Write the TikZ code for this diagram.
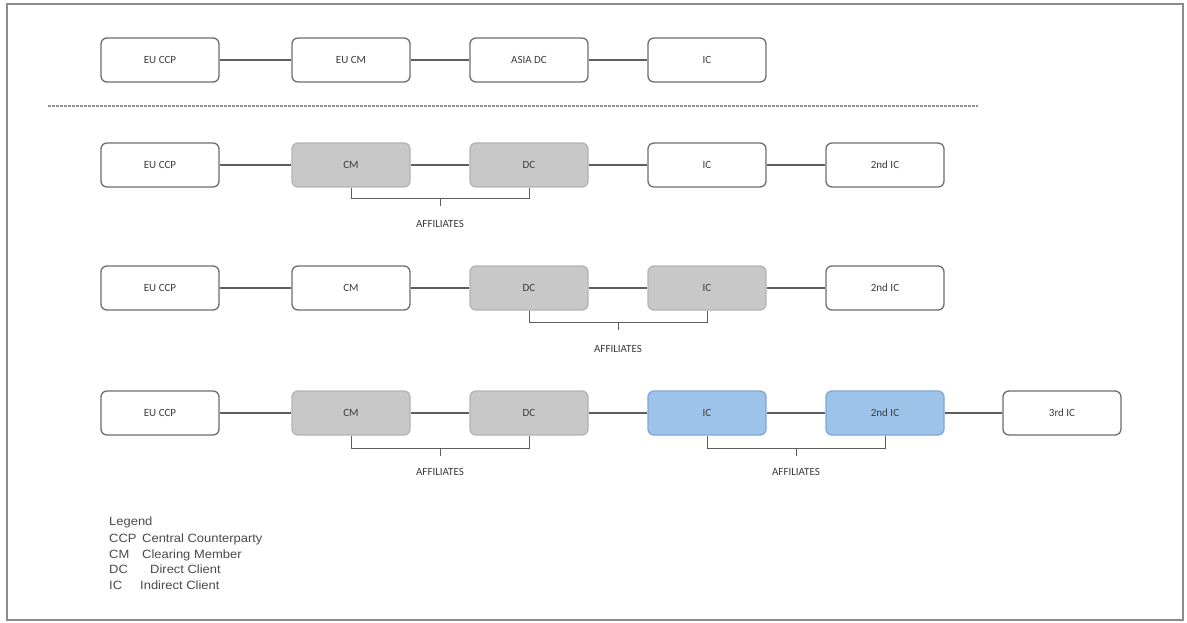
\documentclass[tikz,border=0pt]{standalone}
\usepackage{fontspec}
\setmainfont{Carlito}
\newfontfamily\legfont[FakeStretch=1.08]{Liberation Sans}
\definecolor{boxline}{HTML}{6E6E6E}
\definecolor{grayfill}{HTML}{C8C8C8}
\definecolor{grayline}{HTML}{B4B4B4}
\definecolor{bluefill}{HTML}{9EC3EA}
\definecolor{blueline}{HTML}{7FA8D8}
\definecolor{labeltext}{HTML}{3C3C3C}
\definecolor{legcolor}{HTML}{4A4A4A}
\definecolor{conn}{HTML}{5E5E5E}
\begin{document}
\begin{tikzpicture}[x=1pt,y=-1pt,
  entity/.style={draw=boxline,line width=1.3pt,rounded corners=6pt,minimum width=118pt,minimum height=44pt,inner sep=0pt,fill=white,text=labeltext,font=\fontsize{11}{13}\selectfont},
  grayent/.style={entity,draw=grayline,fill=grayfill},
  blueent/.style={entity,draw=blueline,fill=bluefill},
  link/.style={draw=conn,line width=1.4pt},
  brk/.style={draw=conn,line width=1pt},
  afflabel/.style={text=labeltext,font=\fontsize{11}{13}\selectfont,inner sep=0pt},
  legtext/.style={anchor=base west,inner sep=0pt,text=legcolor,font=\legfont\fontsize{12}{14}\selectfont}
]
\useasboundingbox (0,0) rectangle (1187,623);
\fill[white] (0,0) rectangle (1187,623);
\draw[draw=gray!90,line width=2pt] (7,4) rectangle (1183,620);

% Row 1
\node[entity] (a1) at (160,60) {EU CCP};
\node[entity] (a2) at (351,60) {EU CM};
\node[entity] (a3) at (529,60) {ASIA DC};
\node[entity] (a4) at (707,60) {IC};
\draw[link] (a1) -- (a2);
\draw[link] (a2) -- (a3);
\draw[link] (a3) -- (a4);

% dashed separator
\coordinate (d1) at (48,106);
\coordinate (d2) at (978,106);
\draw[draw=gray!85,line width=1.3pt,dash pattern=on 2.5pt off 1.5pt] (d1) -- (d2);

% Row 2
\node[entity] (b1) at (160,165) {EU CCP};
\node[grayent] (b2) at (351,165) {CM};
\node[grayent] (b3) at (529,165) {DC};
\node[entity] (b4) at (707,165) {IC};
\node[entity] (b5) at (885,165) {2nd IC};
\draw[link] (b1) -- (b2);
\draw[link] (b2) -- (b3);
\draw[link] (b3) -- (b4);
\draw[link] (b4) -- (b5);
\draw[brk] (b2.south) -- ++(0,11) -| (b3.south);
\node[afflabel] (bl) at (440,224) {AFFILIATES};
\draw[brk] (440,198) -- (440,206);

% Row 3
\node[entity] (c1) at (160,288) {EU CCP};
\node[entity] (c2) at (351,288) {CM};
\node[grayent] (c3) at (529,288) {DC};
\node[grayent] (c4) at (707,288) {IC};
\node[entity] (c5) at (885,288) {2nd IC};
\draw[link] (c1) -- (c2);
\draw[link] (c2) -- (c3);
\draw[link] (c3) -- (c4);
\draw[link] (c4) -- (c5);
\draw[brk] (c3.south) -- ++(0,12) -| (c4.south);
\node[afflabel] (cl) at (618,349) {AFFILIATES};
\draw[brk] (618,322) -- (618,330);

% Row 4
\node[entity] (e1) at (160,413) {EU CCP};
\node[grayent] (e2) at (351,413) {CM};
\node[grayent] (e3) at (529,413) {DC};
\node[blueent] (e4) at (707,413) {IC};
\node[blueent] (e5) at (885,413) {2nd IC};
\node[entity] (e6) at (1062,413) {3rd IC};
\draw[link] (e1) -- (e2);
\draw[link] (e2) -- (e3);
\draw[link] (e3) -- (e4);
\draw[link] (e4) -- (e5);
\draw[link] (e5) -- (e6);
\draw[brk] (e2.south) -- ++(0,13) -| (e3.south);
\draw[brk] (440,448) -- (440,456);
\node[afflabel] (el1) at (440,472) {AFFILIATES};
\draw[brk] (e4.south) -- ++(0,13) -| (e5.south);
\draw[brk] (796,448) -- (796,456);
\node[afflabel] (el2) at (796,472) {AFFILIATES};

% Legend
\node[legtext] (lg) at (109,525) {Legend};
\node[legtext] (k1) at (109,542) {CCP};
\node[legtext] (v1) at (142,542) {Central Counterparty};
\node[legtext] (k2) at (109,558) {CM};
\node[legtext] (v2) at (142,558) {Clearing Member};
\node[legtext] (k3) at (109,573) {DC};
\node[legtext] (v3) at (150,573) {Direct Client};
\node[legtext] (k4) at (109,589) {IC};
\node[legtext] (v4) at (140,589) {Indirect Client};
\end{tikzpicture}
\end{document}
